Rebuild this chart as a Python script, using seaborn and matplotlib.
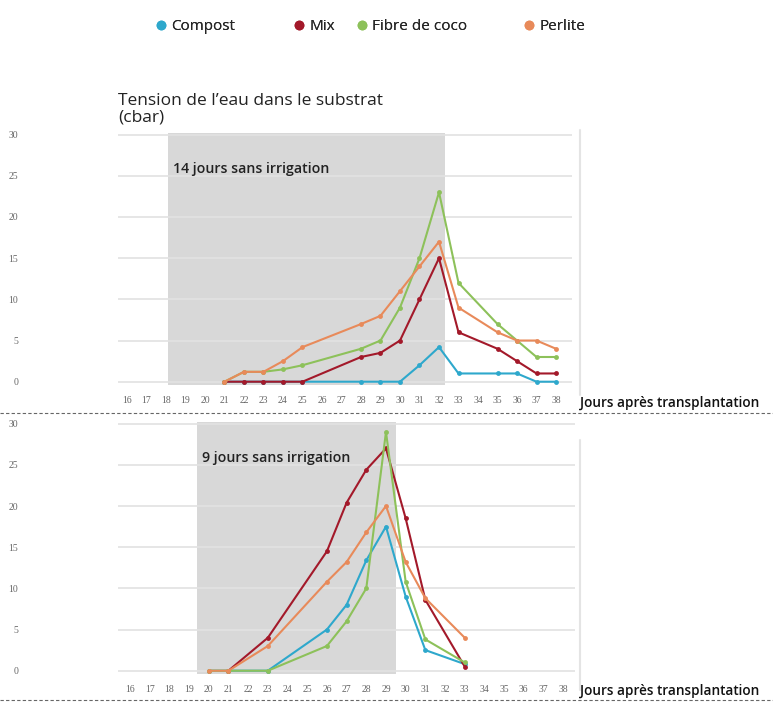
import matplotlib.pyplot as plt
import matplotlib.lines as mlines
import numpy as np
import pandas as pd
import seaborn as sns

# --- data (days after transplant -> tension, cbar) ---
substrats = ['Compost', 'Mix', 'Fibre de coco', 'Perlite']
couleurs = ['#2ea8cc', '#a3192a', '#8dc15a', '#e88a5a']

# panel 1: 14 days without irrigation
p1_compost_j = [21, 22, 23, 24, 25, 28, 29, 30, 31, 32, 33, 35, 36, 37, 38]
p1_compost_v = [0, 0, 0, 0, 0, 0, 0, 0, 2, 4.2, 1, 1, 1, 0, 0]
p1_mix_j = [21, 22, 23, 24, 25, 28, 29, 30, 31, 32, 33, 35, 36, 37, 38]
p1_mix_v = [0, 0, 0, 0, 0, 3, 3.5, 5, 10, 15, 6, 4, 2.5, 1, 1]
p1_coco_j = [21, 22, 23, 24, 25, 28, 29, 30, 31, 32, 33, 35, 36, 37, 38]
p1_coco_v = [0, 1.2, 1.2, 1.5, 2, 4, 5, 9, 15, 23, 12, 7, 5, 3, 3]
p1_perlite_j = [21, 22, 23, 24, 25, 28, 29, 30, 31, 32, 33, 35, 36, 37, 38]
p1_perlite_v = [0, 1.2, 1.2, 2.5, 4.2, 7, 8, 11, 14, 17, 9, 6, 5, 5, 4]

# panel 2: 9 days without irrigation
p2_compost_j = [20, 21, 23, 26, 27, 28, 29, 30, 31, 33]
p2_compost_v = [0, 0, 0, 5, 8, 13.4, 17.5, 9, 2.5, 0.8]
p2_mix_j = [21, 23, 26, 27, 28, 29, 30, 31, 33]
p2_mix_v = [0, 4, 14.5, 20.4, 24.4, 27, 18.5, 8.6, 0.5]
p2_coco_j = [20, 21, 23, 26, 27, 28, 29, 30, 31, 33]
p2_coco_v = [0, 0, 0, 3, 6, 10, 29, 10.8, 3.8, 1]
p2_perlite_j = [20, 21, 23, 26, 27, 28, 29, 30, 31, 33]
p2_perlite_v = [0, 0, 3, 10.8, 13.2, 16.8, 20, 13.2, 8.8, 4]

jours_ticks = list(range(16, 39))
tension_ticks = [0, 5, 10, 15, 20, 25, 30]


def long_df(series):
    rows = []
    for nom, (j, v) in zip(substrats, series):
        rows += [{'jour': a, 'tension': b, 'substrat': nom} for a, b in zip(j, v)]
    return pd.DataFrame(rows)


df1 = long_df([(p1_compost_j, p1_compost_v), (p1_mix_j, p1_mix_v),
               (p1_coco_j, p1_coco_v), (p1_perlite_j, p1_perlite_v)])
df2 = long_df([(p2_compost_j, p2_compost_v), (p2_mix_j, p2_mix_v),
               (p2_coco_j, p2_coco_v), (p2_perlite_j, p2_perlite_v)])

sns.set_style('white')
plt.rcParams['font.family'] = ['Open Sans', 'DejaVu Sans']

W, H = 773, 702
fig = plt.figure(figsize=(W / 100, H / 100), dpi=100)
palette = dict(zip(substrats, couleurs))


def panel(box, df, xlim, shade, label):
    l, t, r, b = box
    ax = fig.add_axes([l / W, 1 - b / H, (r - l) / W, (b - t) / H])
    ax.axvspan(*shade, color='#d8d8d8', zorder=0, lw=0)
    for y in tension_ticks:
        ax.axhline(y, color='#e2e2e2', lw=1.2, zorder=0.5)
    sns.lineplot(data=df, x='jour', y='tension', hue='substrat', palette=palette,
                 hue_order=substrats, marker='o', markersize=3.5, markeredgewidth=0,
                 linewidth=1.5, legend=False, ax=ax, zorder=3)
    ax.set_xlim(*xlim)
    ax.set_ylim(-0.4, 30.2)
    ax.set_xticks(jours_ticks)
    ax.set_yticks(tension_ticks)
    ax.tick_params(length=0, labelsize=7, labelcolor='#666666')
    ax.tick_params(axis='y', pad=72)
    ax.tick_params(axis='x', pad=8)
    for lab in ax.get_xticklabels() + ax.get_yticklabels():
        lab.set_family('Liberation Serif')
    ax.set_xlabel('')
    ax.set_ylabel('')
    for s in ax.spines.values():
        s.set_visible(False)
    ax.text(shade[0] + 0.25, 25.4, label, fontsize=10.2, fontweight='semibold', color='#222222')
    return ax


ax1 = panel((118, 133, 572, 385), df1, (15.54, 38.82), (18.1, 32.3), '14 jours sans irrigation')
ax2 = panel((118, 422, 575, 674), df2, (15.39, 38.6), (19.4, 29.5), '9 jours sans irrigation')

# axis captions
fig.text(118 / W, 1 - 93 / H, 'Tension de l\u2019eau dans le substrat\n(cbar)', fontsize=12.5,
         va='top', ha='left', color='#222222', linespacing=1.0)
for y in (403, 691):
    fig.text(580 / W, 1 - y / H, 'Jours après transplantation', fontsize=9.8,
             fontweight='semibold', va='center', ha='left', color='#111111')

# dashed separators and light frame lines
for y in (413, 700):
    fig.add_artist(mlines.Line2D([0, 1], [1 - y / H] * 2, color='#666666', lw=0.8,
                                 ls=(0, (3, 2))))
for y0, y1 in ((130, 395), (440, 690)):
    fig.add_artist(mlines.Line2D([580 / W] * 2, [1 - y0 / H, 1 - y1 / H], color='#e4e4e4', lw=1.5))

# legend entries at their own positions
for nom, c, x in zip(substrats, couleurs, (144, 282, 345, 512)):
    h = mlines.Line2D([], [], color=c, marker='o', ls='', markersize=6)
    leg = fig.legend([h], [nom], loc='center left', bbox_to_anchor=(x / W, 1 - 27 / H),
                     frameon=False, fontsize=11, handletextpad=0.1, handlelength=1.2,
                     borderpad=0)
    fig.add_artist(leg)

fig.savefig('out.png', dpi=100)
